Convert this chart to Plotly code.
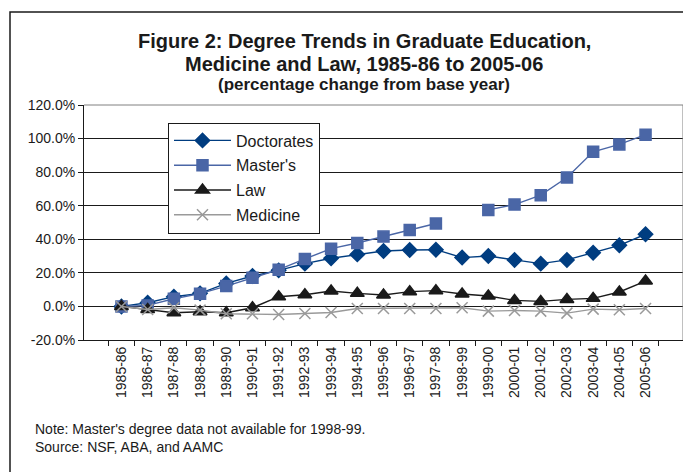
import plotly.graph_objects as go

years = ["1985-86","1986-87","1987-88","1988-89","1989-90","1990-91","1991-92","1992-93",
         "1993-94","1994-95","1995-96","1996-97","1997-98","1998-99","1999-00","2000-01",
         "2001-02","2002-03","2003-04","2004-05","2005-06"]
doctorates = [0, 2.2, 5.8, 7.8, 13.7, 18.1, 21.5, 25.5, 28.7, 31.0, 33.0, 33.6, 33.8, 29.1,
              30.0, 27.7, 25.5, 27.7, 32.0, 36.4, 43.0]
masters = [0, 0.6, 4.6, 7.6, 12.1, 17.1, 21.9, 28.3, 34.4, 37.8, 41.6, 45.6, 49.4, None,
           57.5, 60.7, 66.3, 76.8, 92.1, 96.5, 102.3]
law = [0, -1.8, -3.8, -3.2, -3.8, -0.8, 5.8, 7.0, 9.2, 7.8, 6.8, 8.8, 9.4, 7.4,
       6.2, 3.6, 3.0, 4.2, 4.8, 8.6, 15.1]
medicine = [0, -1.8, -0.8, -2.2, -4.4, -4.4, -4.8, -4.2, -3.6, -1.2, -1.2, -1.2, -1.2, -0.8,
            -2.8, -2.4, -2.8, -4.0, -1.6, -2.0, -1.2]
y_ticks = [-20, 0, 20, 40, 60, 80, 100, 120]
y_tick_labels = ["-20.0%", "0.0%", "20.0%", "40.0%", "60.0%", "80.0%", "100.0%", "120.0%"]

FONT = "Liberation Sans, Arial, sans-serif"

fig = go.Figure()
series = [
    ("Doctorates", doctorates, "#003d80", "diamond", 11, 1.4),
    ("Master's", masters, "#4a66a6", "square", 11, 1.4),
    ("Law", law, "#1a1a1a", "triangle-up", 12, 1.4),
    ("Medicine", medicine, "#9a9a9a", "x-thin-open", 11, 1.4),
]
for name, vals, col, sym, sz, lw in series:
    fig.add_trace(go.Scatter(
        x=years, y=[None if v is None else v / 100 for v in vals], name=name,
        legendgroup=name,
        mode="lines+markers", connectgaps=False,
        line=dict(color=col, width=lw),
        marker=dict(symbol=sym, size=sz, color=col, line=dict(color=col, width=1.5)),
    ))

# page body has an 8px margin: work in reference pixels, shift by OFF
OFF = 8
W, H = 683, 464
L, T = 84 - OFF, 105 - OFF
R = W - (683 - OFF)
B = H - (340 - OFF)
pw, ph = W - L - R, H - T - B

def px_x(px):
    return (px - OFF - L) / pw

def px_y(py):
    return (H - B - (py - OFF)) / ph

fig.update_layout(
    width=W, height=H,
    margin=dict(l=L, r=R, t=T, b=B),
    paper_bgcolor="white", plot_bgcolor="white",
    font=dict(family=FONT, size=14, color="#1a1a1a"),
    showlegend=True,
    legend=dict(
        x=px_x(168), y=px_y(122.5), xanchor="left", yanchor="top",
        bgcolor="white", bordercolor="#1a1a1a", borderwidth=1,
        font=dict(size=16, family=FONT), traceorder="grouped", tracegroupgap=1,
        itemwidth=57, entrywidth=147, entrywidthmode="pixels",
    ),
    xaxis=dict(
        type="category", categoryorder="array", categoryarray=years,
        tickangle=-90, tickson="boundaries", ticks="outside", ticklen=5,
        tickcolor="#1a1a1a", showline=True, linecolor="#1a1a1a", linewidth=1,
        showgrid=False, mirror=False, tickfont=dict(size=14),
    ),
    yaxis=dict(
        range=[-0.2, 1.2], tickvals=[v / 100 for v in y_ticks], ticktext=y_tick_labels,
        ticks="outside", ticklen=5, tickcolor="#1a1a1a",
        showline=True, linecolor="#1a1a1a", linewidth=1,
        showgrid=True, gridcolor="#1a1a1a", gridwidth=1, zeroline=False,
        tickfont=dict(size=14),
    ),
)

# plot frame top/right (gray) and outer chart border
fig.add_shape(type="line", xref="paper", yref="paper", x0=0, x1=1, y0=1, y1=1,
              line=dict(color="#808080", width=1))
fig.add_shape(type="line", xref="paper", yref="paper", x0=1, x1=1, y0=0, y1=1,
              line=dict(color="#808080", width=1))
fig.add_shape(type="rect", xref="paper", yref="paper",
              x0=px_x(10), x1=px_x(720), y0=px_y(12), y1=px_y(520),
              line=dict(color="#1a1a1a", width=1.5), fillcolor="rgba(0,0,0,0)", layer="below")

cx = px_x(364)
title_lines = [
    ("Figure 2: Degree Trends in Graduate Education,", 20, 41),
    ("Medicine and Law, 1985-86 to 2005-06", 20, 63.5),
    ("(percentage change from base year)", 17, 84.5),
]
for txt, fs, yc in title_lines:
    fig.add_annotation(xref="paper", yref="paper", x=cx, y=px_y(yc), text=f"<b>{txt}</b>",
                       showarrow=False, font=dict(size=fs, family=FONT), xanchor="center",
                       yanchor="middle")
fig.add_annotation(xref="paper", yref="paper", x=px_x(33), y=px_y(438),
                   text="Note: Master's degree data not available for 1998-99.<br>Source: NSF, ABA, and AAMC",
                   showarrow=False, font=dict(size=14, family=FONT), xanchor="left",
                   yanchor="middle", align="left")

fig.write_html("out.html")
